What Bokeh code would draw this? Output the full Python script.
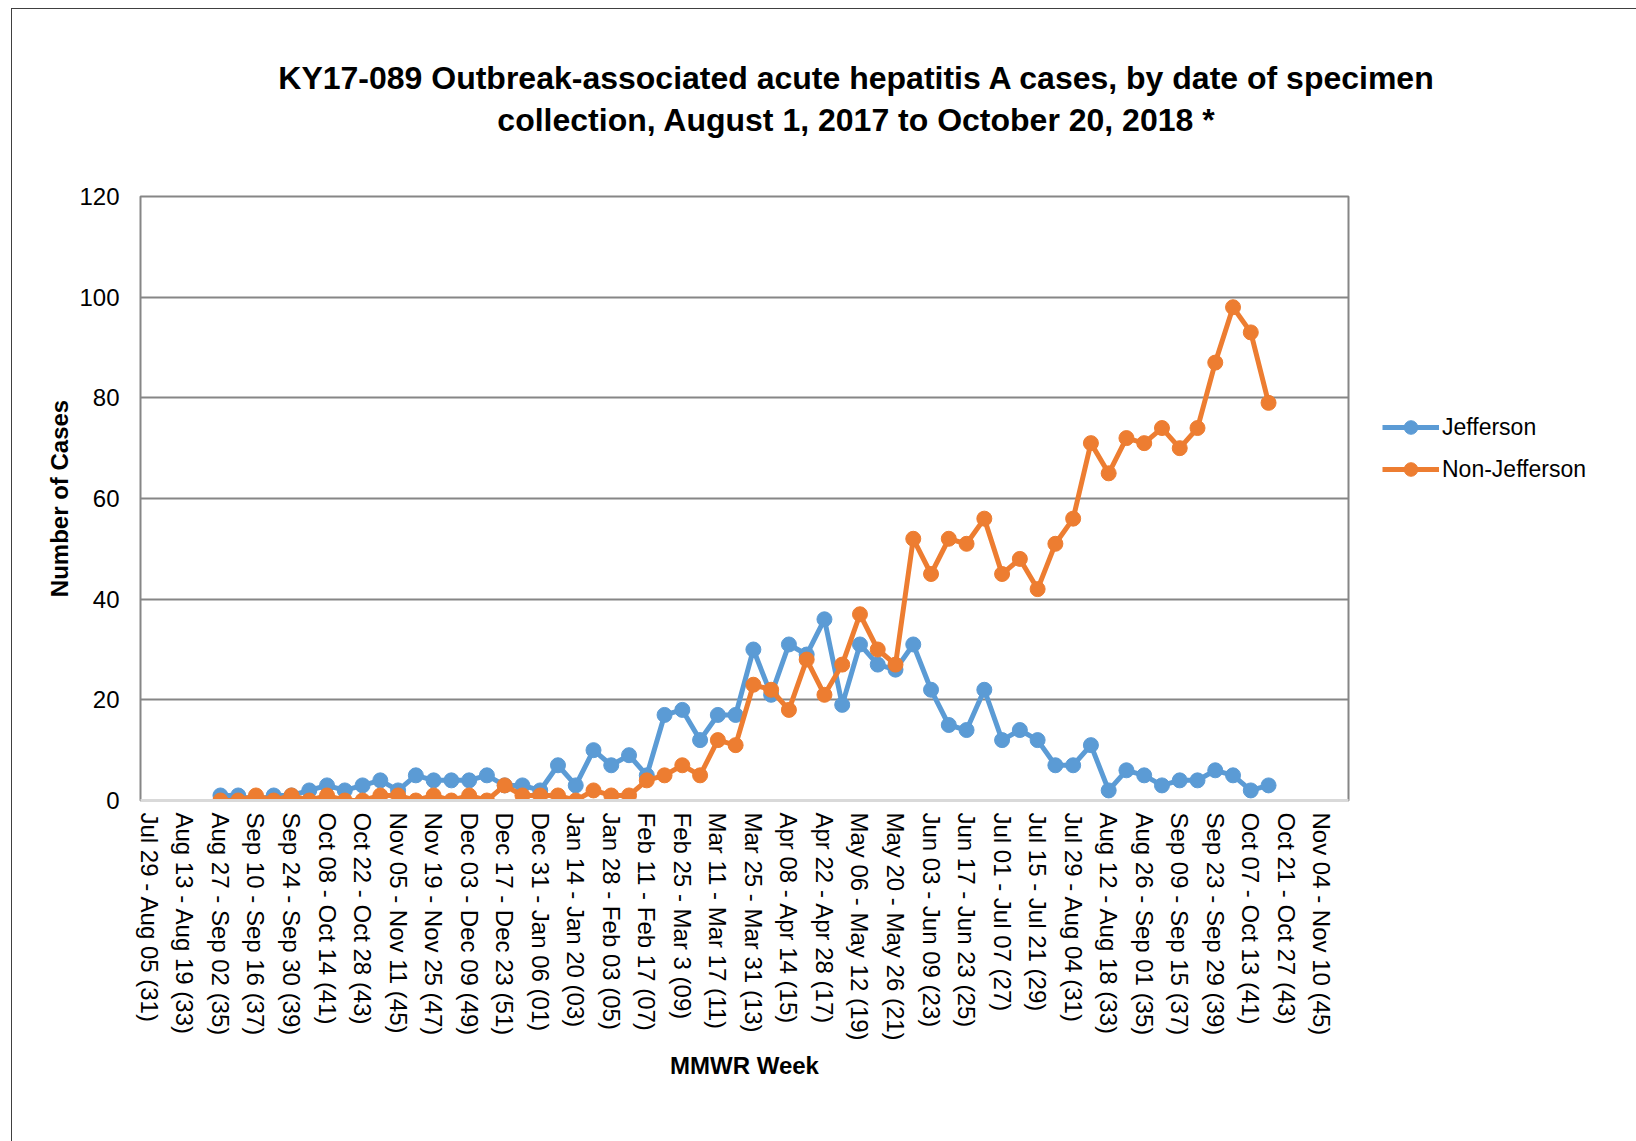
import math
from bokeh.plotting import figure
from bokeh.layouts import column
from bokeh.models import Range1d, FixedTicker, Legend, LegendItem, Div
from bokeh.embed import file_html
from bokeh.resources import INLINE

# ---- data ----
weeks_2017 = list(range(31, 53))
weeks_2018 = list(range(1, 47))
mmwr_weeks = [f"2017-{w:02d}" for w in weeks_2017] + [f"2018-{w:02d}" for w in weeks_2018]

tick_labels = [
    "Jul 29 - Aug 05 (31)", "Aug 13 - Aug 19 (33)", "Aug 27 - Sep 02 (35)",
    "Sep 10 - Sep 16 (37)", "Sep 24 - Sep 30 (39)", "Oct 08 - Oct 14 (41)",
    "Oct 22 - Oct 28 (43)", "Nov 05 - Nov 11 (45)", "Nov 19 - Nov 25 (47)",
    "Dec 03 - Dec 09 (49)", "Dec 17 - Dec 23 (51)", "Dec 31 - Jan 06 (01)",
    "Jan 14 - Jan 20 (03)", "Jan 28 - Feb 03 (05)", "Feb 11 - Feb 17 (07)",
    "Feb 25 - Mar 3 (09)", "Mar 11 - Mar 17 (11)", "Mar 25 - Mar 31 (13)",
    "Apr 08 - Apr 14 (15)", "Apr 22 - Apr 28 (17)", "May 06 - May 12 (19)",
    "May 20 - May 26 (21)", "Jun 03 - Jun 09 (23)", "Jun 17 - Jun 23 (25)",
    "Jul 01 - Jul 07 (27)", "Jul 15 - Jul 21 (29)", "Jul 29 - Aug 04 (31)",
    "Aug 12 - Aug 18 (33)", "Aug 26 - Sep 01 (35)", "Sep 09 - Sep 15 (37)",
    "Sep 23 - Sep 29 (39)", "Oct 07 - Oct 13 (41)", "Oct 21 - Oct 27 (43)",
    "Nov 04 - Nov 10 (45)",
]
tick_weeks = mmwr_weeks[::2]

data_weeks = [f"2017-{w:02d}" for w in range(35, 53)] + [f"2018-{w:02d}" for w in range(1, 43)]

jefferson = [
    1, 1, 0, 1, 1, 2, 3, 2, 3, 4, 2, 5, 4, 4, 4, 5, 3, 3,
    2, 7, 3, 10, 7, 9, 5, 17, 18, 12, 17, 17, 30, 21, 31, 29, 36, 19,
    31, 27, 26, 31, 22, 15, 14, 22, 12, 14, 12, 7, 7, 11, 2, 6,
    5, 3, 4, 4, 6, 5, 2, 3,
]
non_jefferson = [
    0, 0, 1, 0, 1, 0, 1, 0, 0, 1, 1, 0, 1, 0, 1, 0, 3, 1,
    1, 1, 0, 2, 1, 1, 4, 5, 7, 5, 12, 11, 23, 22, 18, 28, 21, 27,
    37, 30, 27, 52, 45, 52, 51, 56, 45, 48, 42, 51, 56, 71, 65, 72,
    71, 74, 70, 74, 87, 98, 93, 79,
]

y_ticks = [0, 20, 40, 60, 80, 100, 120]

title_lines = [
    "KY17-089 Outbreak-associated acute hepatitis A cases, by date of specimen",
    "collection, August 1, 2017 to October 20, 2018 *",
]

BLUE = "#5B9BD5"
ORANGE = "#ED7D31"
GRID = "#868686"
FONT = "Liberation Sans"

x = [mmwr_weeks.index(w) for w in data_weeks]
tick_pos = [mmwr_weeks.index(w) for w in tick_weeks]

# ---- title block ----
TITLE_H = 150
title_html = ('<div style="position:relative;width:1620px;height:%dpx;'
              "font-family:'Liberation Sans',Arial,sans-serif;font-weight:bold;"
              'font-size:32px;color:#000000;">' % TITLE_H)
for txt, cy in zip(title_lines, [64, 106]):
    title_html += ('<div style="position:absolute;left:0px;width:1678px;top:%dpx;'
                   'height:38px;line-height:38px;text-align:center;white-space:nowrap;">%s</div>'
                   % (cy - 19, txt))
title_html += "</div>"
title_div = Div(text=title_html, width=1620, height=TITLE_H)

# ---- figure ----
p = figure(
    frame_width=1208, frame_height=604,
    min_border_left=128, min_border_right=284,
    min_border_top=27, min_border_bottom=349,
    x_range=Range1d(-0.5, len(mmwr_weeks) - 0.5),
    y_range=Range1d(0, 120),
    output_backend="svg", toolbar_location=None,
)

p.outline_line_color = GRID
p.outline_line_width = 2
p.xgrid.grid_line_color = None
p.ygrid.ticker = FixedTicker(ticks=y_ticks[1:])
p.ygrid.grid_line_color = GRID
p.ygrid.grid_line_width = 2

# x axis
xa = p.xaxis[0]
xa.ticker = FixedTicker(ticks=tick_pos)
xa.major_label_overrides = {pos: lab for pos, lab in zip(tick_pos, tick_labels)}
xa.major_label_orientation = -math.pi / 2
xa.major_label_text_font = FONT
xa.major_label_text_font_size = "24px"
xa.major_label_text_color = "#000000"
xa.major_tick_line_color = None
xa.minor_tick_line_color = None
xa.major_tick_out = 0
xa.major_tick_in = 0
xa.major_label_standoff = 12
xa.axis_line_color = "#D9D9D9"
xa.axis_line_width = 3
xa.axis_label = "MMWR Week"
xa.axis_label_text_font = FONT
xa.axis_label_text_font_style = "bold"
xa.axis_label_text_font_size = "24px"
xa.axis_label_text_color = "#000000"
xa.axis_label_standoff = 8

# y axis
ya = p.yaxis[0]
ya.ticker = FixedTicker(ticks=y_ticks)
ya.major_label_text_font = FONT
ya.major_label_text_font_size = "24px"
ya.major_label_text_color = "#000000"
ya.major_tick_line_color = None
ya.minor_tick_line_color = None
ya.major_tick_out = 0
ya.major_tick_in = 0
ya.major_label_standoff = 21
ya.axis_line_color = None
ya.axis_label = "Number of Cases"
ya.axis_label_text_font = FONT
ya.axis_label_text_font_style = "bold"
ya.axis_label_text_font_size = "24px"
ya.axis_label_text_color = "#000000"
ya.axis_label_standoff = 3

# series
l1 = p.line(x, jefferson, line_color=BLUE, line_width=5)
m1 = p.scatter(x, jefferson, size=15, fill_color=BLUE, line_color=BLUE)
l2 = p.line(x, non_jefferson, line_color=ORANGE, line_width=5)
m2 = p.scatter(x, non_jefferson, size=15, fill_color=ORANGE, line_color=ORANGE)

legend = Legend(
    items=[LegendItem(label="Jefferson", renderers=[l1, m1]),
           LegendItem(label="Non-Jefferson", renderers=[l2, m2])],
    location=(34, 314),
    orientation="vertical",
    glyph_width=57, glyph_height=34, label_height=34, label_width=200,
    label_standoff=3, spacing=8, padding=0, margin=0,
    border_line_color=None, background_fill_alpha=0,
    label_text_font=FONT, label_text_font_size="23px", label_text_color="#000000",
)
p.add_layout(legend, "right")

layout = column(
    title_div, p,
    styles={"margin-left": "11px", "margin-top": "8px",
            "border-left": "1px solid #404040", "border-top": "1px solid #404040"},
)

open("out.html", "w").write(file_html(layout, INLINE))
